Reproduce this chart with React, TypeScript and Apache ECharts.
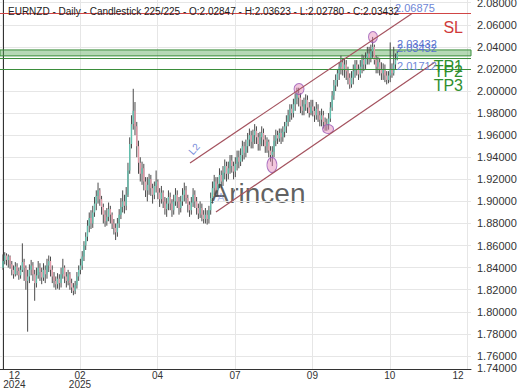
import React, { useEffect, useRef } from 'react';
import * as echarts from 'echarts';

// ---------- data ----------
const opens = [
  1.840,1.846,1.851,1.847,1.850,1.843,1.838,1.834,1.841,1.837,
  1.833,1.838,1.845,1.840,1.828,1.832,1.838,1.842,1.834,1.826,
  1.833,1.840,1.836,1.831,1.838,1.834,1.842,1.846,1.838,1.832,
  1.828,1.825,1.830,1.826,1.834,1.840,1.832,1.828,1.834,1.826,
  1.822,1.819,1.824,1.832,1.838,1.842,1.850,1.860,1.868,1.878,
  1.885,1.880,1.890,1.898,1.905,1.910,1.902,1.895,1.888,1.882,
  1.886,1.893,1.888,1.880,1.876,1.872,1.880,1.888,1.895,1.900,
  1.896,1.906,1.928,1.952,1.970,1.982,1.968,1.950,1.935,1.925,
  1.930,1.918,1.910,1.915,1.920,1.912,1.906,1.914,1.918,1.908,
  1.902,1.908,1.900,1.893,1.898,1.904,1.898,1.892,1.900,1.906,
  1.900,1.894,1.900,1.906,1.910,1.903,1.897,1.892,1.899,1.906,
  1.900,1.894,1.889,1.894,1.888,1.884,1.888,1.884,1.892,1.903,
  1.912,1.918,1.910,1.916,1.924,1.918,1.926,1.932,1.925,1.930,
  1.937,1.932,1.927,1.934,1.940,1.936,1.942,1.950,1.944,1.950,
  1.956,1.960,1.954,1.960,1.964,1.958,1.952,1.958,1.962,1.956,
  1.950,1.954,1.946,1.942,1.945,1.955,1.960,1.957,1.962,1.958,
  1.963,1.968,1.972,1.978,1.984,1.980,1.988,1.993,1.998,1.994,
  1.986,1.982,1.988,1.992,1.985,1.980,1.986,1.982,1.978,1.984,
  1.978,1.974,1.978,1.972,1.968,1.970,1.975,1.985,1.996,2.005,
  2.010,2.016,2.022,2.026,2.020,2.024,2.018,2.012,2.006,2.012,
  2.018,2.024,2.020,2.015,2.022,2.028,2.024,2.030,2.034,2.030,
  2.036,2.040,2.028,2.022,2.026,2.020,2.016,2.020,2.014,2.010,
  2.014,2.020,2.016,2.024,2.02847,
];
const highs = [
  1.852,1.854,1.853,1.852,1.851,1.846,1.842,1.845,1.844,1.840,
  1.842,1.862,1.848,1.842,1.838,1.843,1.847,1.845,1.838,1.840,
  1.846,1.844,1.840,1.844,1.842,1.848,1.851,1.850,1.842,1.836,
  1.832,1.835,1.834,1.840,1.848,1.842,1.836,1.838,1.836,1.830,
  1.826,1.828,1.836,1.842,1.848,1.855,1.864,1.872,1.883,1.890,
  1.892,1.896,1.904,1.910,1.917,1.912,1.905,1.898,1.892,1.894,
  1.899,1.896,1.890,1.884,1.880,1.885,1.893,1.903,1.910,1.906,
  1.913,1.935,1.958,1.978,2.002,1.990,1.972,1.955,1.940,1.936,
  1.934,1.922,1.922,1.925,1.924,1.916,1.918,1.928,1.920,1.912,
  1.914,1.910,1.904,1.903,1.910,1.908,1.902,1.906,1.912,1.910,
  1.904,1.905,1.912,1.917,1.914,1.906,1.900,1.904,1.912,1.910,
  1.904,1.898,1.900,1.898,1.892,1.894,1.892,1.896,1.908,1.918,
  1.924,1.922,1.922,1.930,1.928,1.932,1.938,1.936,1.936,1.942,
  1.942,1.936,1.940,1.946,1.946,1.948,1.955,1.954,1.956,1.962,
  1.966,1.964,1.965,1.970,1.968,1.962,1.963,1.968,1.966,1.960,
  1.958,1.956,1.950,1.950,1.960,1.965,1.964,1.966,1.966,1.968,
  1.972,1.978,1.983,1.988,1.988,1.993,1.998,2.003,2.003,1.998,
  1.992,1.994,1.997,1.996,1.990,1.992,1.992,1.986,1.990,1.988,
  1.982,1.984,1.982,1.976,1.975,1.980,1.990,2.000,2.010,2.015,
  2.020,2.026,2.032,2.030,2.030,2.028,2.022,2.016,2.018,2.024,
  2.028,2.028,2.024,2.028,2.033,2.032,2.035,2.040,2.040,2.042,
  2.049,2.042,2.032,2.031,2.030,2.026,2.025,2.024,2.018,2.018,
  2.044,2.025,2.040,2.034,2.03623,
];
const lows = [
  1.838,1.843,1.842,1.840,1.839,1.833,1.830,1.832,1.833,1.829,
  1.830,1.836,1.828,1.820,1.782,1.826,1.833,1.828,1.810,1.822,
  1.830,1.828,1.825,1.828,1.826,1.830,1.836,1.832,1.826,1.822,
  1.820,1.821,1.820,1.822,1.830,1.826,1.822,1.824,1.820,1.817,
  1.815,1.816,1.821,1.828,1.834,1.838,1.846,1.856,1.864,1.872,
  1.875,1.876,1.886,1.892,1.898,1.896,1.888,1.880,1.877,1.878,
  1.882,1.880,1.875,1.870,1.865,1.868,1.876,1.884,1.890,1.889,
  1.892,1.904,1.925,1.948,1.965,1.960,1.940,1.925,1.918,1.915,
  1.910,1.904,1.900,1.906,1.905,1.898,1.902,1.908,1.902,1.895,
  1.898,1.894,1.888,1.886,1.892,1.892,1.886,1.888,1.896,1.894,
  1.888,1.890,1.896,1.900,1.898,1.890,1.886,1.888,1.895,1.894,
  1.888,1.884,1.885,1.882,1.880,1.880,1.879,1.880,1.888,1.898,
  1.906,1.904,1.905,1.912,1.912,1.914,1.920,1.918,1.920,1.925,
  1.926,1.920,1.922,1.928,1.930,1.932,1.936,1.938,1.940,1.944,
  1.950,1.948,1.948,1.952,1.952,1.946,1.946,1.950,1.950,1.944,
  1.944,1.940,1.936,1.932,1.940,1.950,1.952,1.954,1.952,1.954,
  1.958,1.962,1.968,1.972,1.974,1.976,1.982,1.988,1.986,1.980,
  1.978,1.978,1.982,1.980,1.976,1.978,1.977,1.972,1.974,1.972,
  1.968,1.968,1.966,1.964,1.964,1.965,1.972,1.982,1.992,2.000,
  2.004,2.010,2.015,2.014,2.012,2.010,2.006,2.002,2.003,2.006,
  2.012,2.014,2.010,2.012,2.016,2.018,2.020,2.024,2.024,2.026,
  2.030,2.024,2.016,2.016,2.014,2.010,2.010,2.008,2.006,2.007,
  2.008,2.012,2.014,2.020,2.02780,
];
const closes = [
  1.846,1.851,1.847,1.850,1.843,1.838,1.834,1.841,1.837,1.833,
  1.838,1.845,1.840,1.828,1.832,1.838,1.842,1.834,1.826,1.833,
  1.840,1.836,1.831,1.838,1.834,1.842,1.846,1.838,1.832,1.828,
  1.825,1.830,1.826,1.834,1.840,1.832,1.828,1.834,1.826,1.822,
  1.819,1.824,1.832,1.838,1.842,1.850,1.860,1.868,1.878,1.885,
  1.880,1.890,1.898,1.905,1.910,1.902,1.895,1.888,1.882,1.886,
  1.893,1.888,1.880,1.876,1.872,1.880,1.888,1.895,1.900,1.896,
  1.906,1.928,1.952,1.970,1.982,1.968,1.950,1.935,1.925,1.930,
  1.918,1.910,1.915,1.920,1.912,1.906,1.914,1.918,1.908,1.902,
  1.908,1.900,1.893,1.898,1.904,1.898,1.892,1.900,1.906,1.900,
  1.894,1.900,1.906,1.910,1.903,1.897,1.892,1.899,1.906,1.900,
  1.894,1.889,1.894,1.888,1.884,1.888,1.884,1.892,1.903,1.912,
  1.918,1.910,1.916,1.924,1.918,1.926,1.932,1.925,1.930,1.937,
  1.932,1.927,1.934,1.940,1.936,1.942,1.950,1.944,1.950,1.956,
  1.960,1.954,1.960,1.964,1.958,1.952,1.958,1.962,1.956,1.950,
  1.954,1.946,1.942,1.945,1.955,1.960,1.957,1.962,1.958,1.963,
  1.968,1.972,1.978,1.984,1.980,1.988,1.993,1.998,1.994,1.986,
  1.982,1.988,1.992,1.985,1.980,1.986,1.982,1.978,1.984,1.978,
  1.974,1.978,1.972,1.968,1.970,1.975,1.985,1.996,2.005,2.010,
  2.016,2.022,2.026,2.020,2.024,2.018,2.012,2.006,2.012,2.018,
  2.024,2.020,2.015,2.022,2.028,2.024,2.030,2.034,2.030,2.036,
  2.040,2.028,2.022,2.026,2.020,2.016,2.020,2.014,2.010,2.014,
  2.020,2.016,2.024,2.02847,2.03432,
];

const yTicks = [1.76,1.78,1.80,1.82,1.84,1.86,1.88,1.90,1.92,1.94,1.96,1.98,2.00,2.02,2.04,2.06,2.08];
const xLabelText = ['12\n2024', '02\n2025', '04', '07', '09', '10', '12'];
const xLabelAt = [6.5, 43.75, 87.8, 131.8, 175.8, 219.8, 258.5];
const xGridAt = [-0.28, 43.75, 87.8, 131.8, 175.8, 219.8, 263.8];

const slLevel = 2.06875;
const tpBand = [2.0318, 2.0372];
const tp2Level = 2.0305;
const tp3Level = 2.0172;
const lastPrice = 2.03432;
const upperChannel = [[106.25, 1.9348], [232.4, 2.0702]];
const lowerChannel = [[121, 1.8904], [245.5, 2.0263]];
const pivots = [[152.8, 1.933], [168.2, 2.0018], [184.7, 1.9656], [210.2, 2.0489]];

const FONT = 'Liberation Sans, Arial, sans-serif';
const UP = '#62bfad';
const DOWN = '#e49aa8';
const WICK = '#4a4a4a';

export default function App() {
  const ref = useRef<HTMLDivElement>(null);
  useEffect(() => {
    if (!ref.current) return;
    const chart = echarts.init(ref.current, null, { renderer: 'svg' });
    const candleData = closes.map((c, i) => [i, opens[i], c, lows[i], highs[i]]);
    const pivotSizes = [[10, 15], [10, 11], [11, 9], [9, 11]];

    const option: any = {
      animation: false,
      backgroundColor: '#ffffff',
      grid: { left: 0, right: 49, top: 0, bottom: 21, containLabel: false, outerBoundsMode: 'none' },
      xAxis: {
        type: 'value',
        min: -1.7,
        max: 265.9,
        axisLine: { show: true, onZero: false, lineStyle: { color: '#333', width: 1 } },
        axisTick: { show: false, customValues: xGridAt },
        axisLabel: {
          customValues: xLabelAt,
          formatter: (v: number) => {
            const k = xLabelAt.findIndex((p) => Math.abs(p - v) < 0.01);
            return k >= 0 ? xLabelText[k] : '';
          },
          color: '#333',
          fontSize: 10,
          lineHeight: 9,
          margin: 1.5,
          fontFamily: FONT,
        },
        splitLine: { show: true, lineStyle: { color: '#e6e6e6', width: 1 } },
      },
      yAxis: {
        type: 'value',
        position: 'right',
        min: 1.74819,
        max: 2.08243,
        axisLine: { show: true, lineStyle: { color: '#333', width: 1 } },
        axisTick: { show: false, customValues: yTicks },
        axisLabel: {
          customValues: yTicks,
          formatter: (v: number) => v.toFixed(5),
          color: '#333',
          fontSize: 11,
          margin: 6,
          fontFamily: FONT,
        },
        splitLine: { show: true, lineStyle: { color: '#e6e6e6', width: 1 } },
      },
      series: [
        {
          type: 'line',
          data: [],
          z: 1,
          silent: true,
          markArea: {
            silent: true,
            itemStyle: { color: 'rgba(92,170,92,0.45)', borderColor: '#3b8e3b', borderWidth: 1 },
            data: [[{ yAxis: tpBand[1] }, { yAxis: tpBand[0] }]],
          },
          markLine: {
            silent: true,
            symbol: ['none', 'none'],
            label: { show: false },
            data: [
              { yAxis: slLevel, lineStyle: { color: '#d04545', width: 1, type: 'solid' } },
              { yAxis: tp2Level, lineStyle: { color: '#3b8e3b', width: 1, type: 'solid' } },
              { yAxis: tp3Level, lineStyle: { color: '#3b8e3b', width: 1, type: 'solid' } },
              [
                { coord: upperChannel[0], lineStyle: { color: '#a4525e', width: 1.2, type: 'solid' } },
                { coord: upperChannel[1] },
              ],
              [
                { coord: lowerChannel[0], lineStyle: { color: '#a4525e', width: 1.2, type: 'solid' } },
                { coord: lowerChannel[1] },
              ],
              {
                yAxis: lastPrice,
                lineStyle: { opacity: 0 },
                label: {
                  show: true,
                  position: 'end',
                  distance: 0,
                  formatter: lastPrice.toFixed(5),
                  color: '#ffffff',
                  backgroundColor: '#22a38b',
                  padding: [2, 3, 1, 3],
                  fontSize: 11,
                  fontFamily: FONT,
                },
              },
            ],
          },
        },
        {
          type: 'custom',
          z: 2,
          silent: true,
          clip: true,
          encode: { x: 0, y: [1, 2, 3, 4] },
          data: candleData,
          renderItem: (params: any, api: any) => {
            const i = api.value(0);
            const o = api.value(1);
            const c = api.value(2);
            const l = api.value(3);
            const h = api.value(4);
            const top = api.coord([i, Math.max(o, c)]);
            const bot = api.coord([i, Math.min(o, c)]);
            const hi = api.coord([i, h]);
            const lo = api.coord([i, l]);
            return {
              type: 'group',
              children: [
                {
                  type: 'line',
                  shape: { x1: hi[0], y1: hi[1], x2: lo[0], y2: lo[1] },
                  style: { stroke: WICK, lineWidth: 1 },
                },
                {
                  type: 'rect',
                  shape: { x: top[0] - 0.7, y: top[1], width: 1.4, height: Math.max(1, bot[1] - top[1]) },
                  style: { fill: c >= o ? UP : DOWN },
                },
              ],
            };
          },
        },
        {
          type: 'scatter',
          z: 3,
          silent: true,
          symbol: 'circle',
          data: pivots.map((p, k) => ({ value: p, symbolSize: pivotSizes[k] })),
          itemStyle: { color: 'rgba(228,128,178,0.55)', borderColor: '#9a5ab8', borderWidth: 1 },
        },
      ],
      graphic: [
        { type: 'text', x: 8, y: 11.5, z: 20, style: { text: 'EURNZD \u2010 Daily \u2010 Candlestick', fill: '#222', fontSize: 10, fontFamily: FONT, verticalAlign: 'middle' } },
        { type: 'text', x: 144, y: 11.5, z: 20, style: { text: '225/225 \u2010 O:2.02847 \u2010 H:2.03623 \u2010 L:2.02780 \u2010 C:2.03432', fill: '#222', fontSize: 10, fontFamily: FONT, verticalAlign: 'middle' } },
        { type: 'text', x: 258, y: 193, z: 0, style: { text: 'Arincen', fill: 'rgba(70,70,70,0.85)', fontSize: 28, fontFamily: FONT, align: 'center', verticalAlign: 'middle' } },
        { type: 'text', x: 221, y: 197, z: 20, style: { text: 'A', fill: 'rgba(110,140,225,0.55)', fontSize: 11, fontFamily: FONT, align: 'center', verticalAlign: 'middle' } },
        { type: 'text', x: 194, y: 149, z: 20, rotation: 0.85, style: { text: 'L2', fill: '#7088d8', fontSize: 10, fontFamily: FONT, align: 'center', verticalAlign: 'middle' } },
        { type: 'text', x: 463, y: 27, z: 20, style: { text: 'SL', fill: '#d03a3a', fontSize: 16, fontFamily: FONT, align: 'right', verticalAlign: 'middle' } },
        { type: 'text', x: 463, y: 66, z: 20, style: { text: 'TP1', fill: '#2f8f2f', fontSize: 16, fontFamily: FONT, align: 'right', verticalAlign: 'middle' } },
        { type: 'text', x: 463, y: 71, z: 20, style: { text: 'TP2', fill: '#2f8f2f', fontSize: 16, fontFamily: FONT, align: 'right', verticalAlign: 'middle' } },
        { type: 'text', x: 463, y: 85, z: 20, style: { text: 'TP3', fill: '#2f8f2f', fontSize: 16, fontFamily: FONT, align: 'right', verticalAlign: 'middle' } },
        { type: 'text', x: 395, y: 8, z: 20, style: { text: '2.06875', fill: '#6f86d6', fontSize: 11, fontFamily: FONT, verticalAlign: 'middle' } },
        { type: 'text', x: 397, y: 44, z: 20, style: { text: '2.03432', fill: '#5b74d0', fontSize: 11, fontFamily: FONT, verticalAlign: 'middle' } },
        { type: 'text', x: 397, y: 48, z: 20, style: { text: '2.03432', fill: '#5b74d0', fontSize: 11, fontFamily: FONT, verticalAlign: 'middle' } },
        { type: 'text', x: 397, y: 66, z: 20, style: { text: '2.01712', fill: '#7088d8', fontSize: 11, fontFamily: FONT, verticalAlign: 'middle' } },
        { type: 'text', x: 477, y: 368, z: 20, style: { text: '1.74000', fill: '#333', fontSize: 11, fontFamily: FONT, verticalAlign: 'middle' } },
      ],
    };
    chart.setOption(option);
    return () => chart.dispose();
  }, []);
  return <div ref={ref} style={{ position: 'fixed', left: 0, top: 0, width: 520, height: 390 }} />;
}
